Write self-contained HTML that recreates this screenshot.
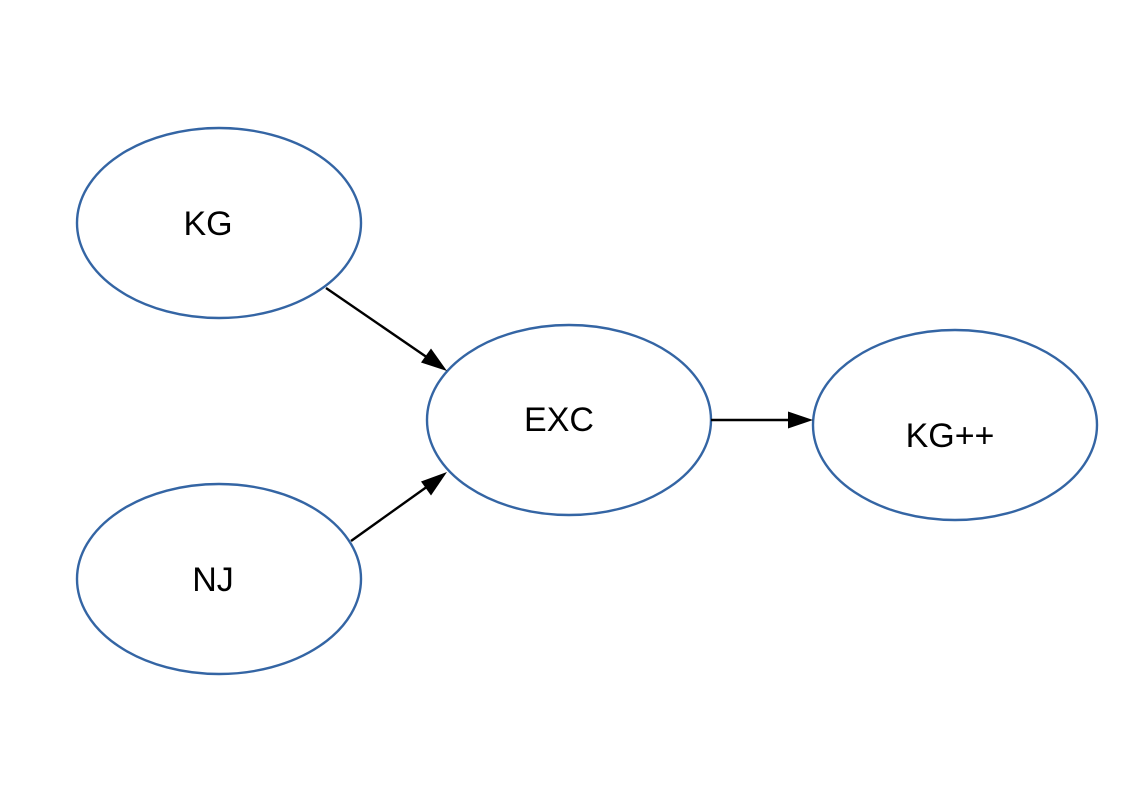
<!DOCTYPE html>
<html><head><style>body{margin:0;background:#fff}</style></head><body>
<svg width="1123" height="794" xmlns="http://www.w3.org/2000/svg">
<g fill="none" stroke="#3465a4" stroke-width="2.4">
<ellipse cx="219" cy="223" rx="142" ry="95"/>
<ellipse cx="219" cy="579" rx="142" ry="95"/>
<ellipse cx="569" cy="420" rx="142" ry="95"/>
<ellipse cx="955" cy="425" rx="142" ry="95"/>
</g>
<g stroke="#000" stroke-width="2.4">
<line x1="326" y1="288" x2="428" y2="358"/>
<line x1="351" y1="541" x2="428" y2="486"/>
<line x1="711" y1="420" x2="790" y2="420"/>
</g>
<g fill="#000">
<polygon points="813,420 788,411.5 788,428.5"/>
<polygon points="447,371 421,362.5 431,348.5" />
<polygon points="447,472 431,495.5 421,481.5"/>
</g>
<g font-family="Liberation Sans, sans-serif" font-size="34" text-anchor="middle" fill="#000">
<text x="208" y="235">KG</text>
<text x="213" y="591">NJ</text>
<text x="559" y="431">EXC</text>
<text x="950" y="447">KG++</text>
</g>
</svg>
</body></html>
